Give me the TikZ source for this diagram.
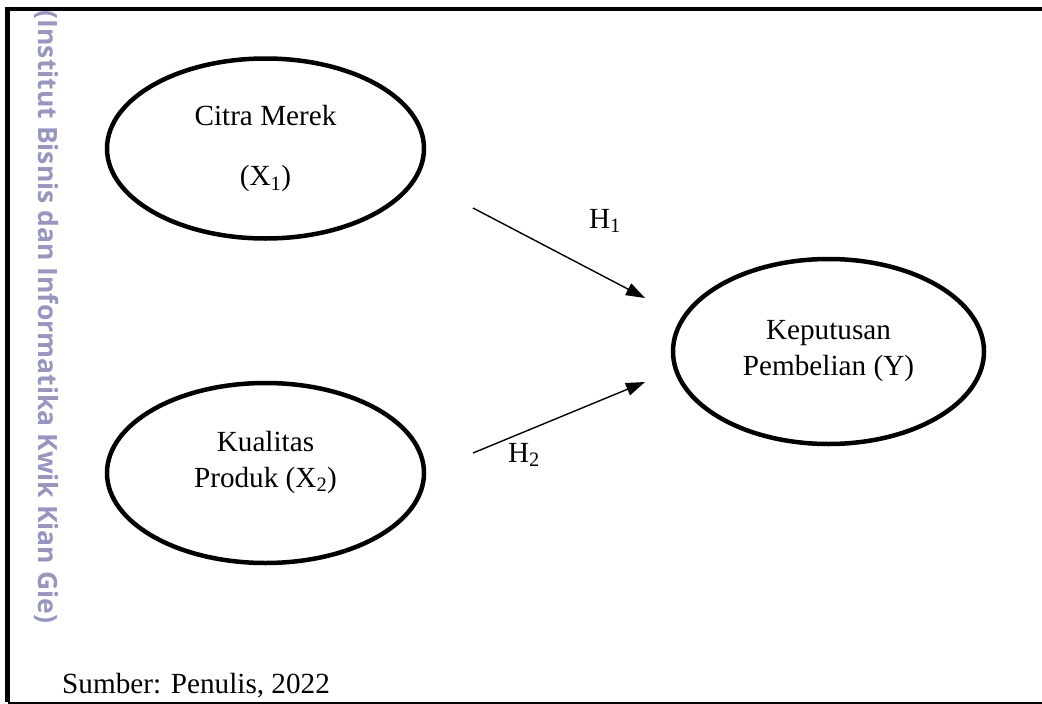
\documentclass[tikz,border=0pt]{standalone}
\usepackage{fontspec}
\setmainfont{Liberation Serif}
\newfontfamily\wmfont{Open Sans}
\usetikzlibrary{arrows.meta,shapes.geometric}
\definecolor{wmgray}{RGB}{150,150,190}

\begin{document}
\begin{tikzpicture}[x=1pt,y=-1pt,
        construct/.style={ellipse,draw,line width=4.5pt,minimum width=317pt,minimum height=180pt,inner sep=0pt,align=center,font=\fontsize{29.2}{36}\selectfont},
        hyp/.style={-{Triangle[length=19pt,width=13pt]},line width=1.4pt},
        lbl/.style={font=\fontsize{29.2}{36}\selectfont,inner sep=0pt}]
        \useasboundingbox (0,0) rectangle (1042,704);

        % frame and watermark
        \draw[line width=4.5pt] (7.5,702) -- (7.5,9) -- (1042,9);
        \draw[line width=2pt] (7.5,702.5) -- (1042,702.5);
        \node [rotate=-90,text=wmgray,inner sep=0pt,font=\wmfont\bfseries\fontsize{26.5}{30}\selectfont] (wm) at (47,317) {(Institut Bisnis dan Informatika Kwik Kian Gie)};

        \node [construct] (citra) at (265.5,148.5) {Citra Merek\\[24pt](X\textsubscript{1})};
        \node [construct] (kualitas) at (265.5,473) {};
        \node [lbl,align=center] (kualitastext) at (265.5,462) {Kualitas\\Produk (X\textsubscript{2})};
        \node [construct,minimum width=311pt,minimum height=185pt] (keputusan) at (828.5,351.5) {Keputusan\\Pembelian (Y)};

        \coordinate (h1from) at (473,208);
        \coordinate (h1to) at (645,298);
        \coordinate (h2from) at (473,453);
        \coordinate (h2to) at (645,382);

        \draw[hyp] (h1from) to (h1to);
        \draw[hyp] (h2from) to (h2to);

        \node [lbl,anchor=base] (h1) at (605,228) {H\textsubscript{1}};
        \node [lbl,anchor=base] (h2) at (524,462) {H\textsubscript{2}};
        \node [lbl,anchor=base west] (sumber) at (62,693) {Sumber: Penulis, 2022};
\end{tikzpicture}
\end{document}
